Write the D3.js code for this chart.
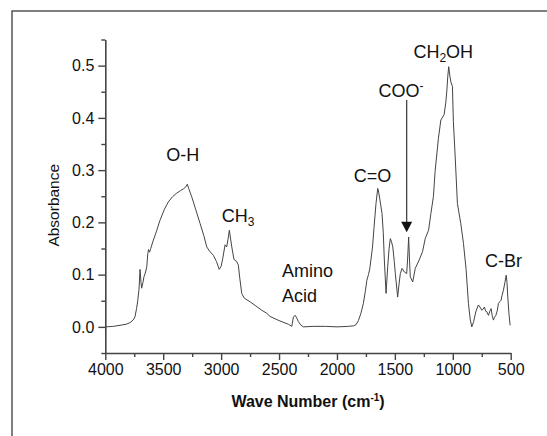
<!DOCTYPE html>
<html>
<head>
<meta charset="utf-8">
<script src="https://cdn.jsdelivr.net/npm/d3@7"></script>
<style>
  body { margin: 0; background: #fff; }
  svg text { font-family: "Liberation Sans", Arial, sans-serif; fill: #111; }
</style>
</head>
<body>
<div id="chart"></div>
<script>
// IR spectrum, wave number (cm-1) vs absorbance
const waveNumber = [
    4000, 3930, 3873, 3820, 3787, 3760, 3744, 3730, 3720, 3709, 3700, 3692, 3686, 3675, 3666, 3652,
    3642, 3633, 3627, 3618, 3608, 3585, 3555, 3528, 3490, 3456, 3420, 3383, 3350, 3326, 3305, 3292,
    3280, 3254, 3220, 3182, 3150, 3124, 3100, 3067, 3040, 3016, 3000, 2986, 2966, 2952, 2940, 2929,
    2918, 2908, 2889, 2865, 2851, 2840, 2822, 2800, 2750, 2700, 2650, 2606, 2578, 2500, 2420, 2390,
    2376, 2360, 2345, 2333, 2310, 2290, 2200, 2100, 2000, 1900, 1858, 1836, 1815, 1793, 1772, 1755,
    1742, 1728, 1716, 1693, 1680, 1663, 1648, 1640, 1629, 1611, 1600, 1591, 1576, 1562, 1550, 1539,
    1528, 1518, 1505, 1496, 1476, 1465, 1453, 1438, 1418, 1398, 1390, 1381, 1374, 1367, 1346, 1324,
    1290, 1261, 1238, 1209, 1189, 1167, 1153, 1124, 1103, 1075, 1060, 1052, 1043, 1035, 1025, 1017,
    1003, 995, 980, 960, 931, 908, 885, 865, 850, 836, 820, 800, 779, 765, 750, 738,
    727, 716, 706, 692, 680, 669, 660, 649, 640, 628, 615, 606, 595, 583, 575, 563,
    550, 539, 532, 525, 515, 505
];
const absorbance = [
    0.000, 0.001, 0.003, 0.005, 0.008, 0.013, 0.019, 0.035, 0.050, 0.072, 0.110, 0.085, 0.074, 0.085, 0.096, 0.105,
    0.115, 0.140, 0.148, 0.143, 0.150, 0.166, 0.185, 0.204, 0.225, 0.239, 0.249, 0.256, 0.261, 0.264, 0.268, 0.273,
    0.265, 0.249, 0.225, 0.198, 0.175, 0.153, 0.145, 0.137, 0.125, 0.110, 0.116, 0.131, 0.157, 0.153, 0.168, 0.185,
    0.168, 0.153, 0.129, 0.125, 0.118, 0.095, 0.064, 0.055, 0.048, 0.040, 0.032, 0.026, 0.020, 0.012, 0.005, 0.001,
    0.019, 0.022, 0.016, 0.010, 0.003, 0.000, 0.001, 0.001, 0.000, 0.001, 0.002, 0.004, 0.012, 0.026, 0.045, 0.068,
    0.089, 0.100, 0.112, 0.153, 0.190, 0.236, 0.265, 0.258, 0.243, 0.217, 0.180, 0.128, 0.064, 0.115, 0.150, 0.169,
    0.162, 0.153, 0.125, 0.102, 0.057, 0.080, 0.102, 0.112, 0.105, 0.102, 0.130, 0.172, 0.130, 0.096, 0.086, 0.112,
    0.128, 0.144, 0.169, 0.185, 0.217, 0.250, 0.297, 0.361, 0.396, 0.406, 0.430, 0.450, 0.480, 0.498, 0.480, 0.469,
    0.460, 0.393, 0.329, 0.236, 0.198, 0.160, 0.110, 0.045, 0.015, 0.000, 0.010, 0.030, 0.042, 0.038, 0.032, 0.034,
    0.038, 0.030, 0.029, 0.022, 0.030, 0.035, 0.022, 0.013, 0.018, 0.022, 0.032, 0.045, 0.048, 0.051, 0.060, 0.070,
    0.085, 0.099, 0.085, 0.057, 0.025, 0.003
];

const xTicks = [4000, 3500, 3000, 2500, 2000, 1500, 1000, 500];
const xMinor = [3750, 3250, 2750, 2250, 1750, 1250, 750];
const yTicks = [0.0, 0.1, 0.2, 0.3, 0.4, 0.5];
const yMinor = [-0.05, 0.05, 0.15, 0.25, 0.35, 0.45, 0.55];

// peak labels, anchored in data units
const peakNames = ["O-H", "CH3", "Amino", "Acid", "C=O", "COO-", "CH2OH", "C-Br"];
const peakWave = [3332, 2995, 2474, 2474, 1693, 1642, 1340, 721];
const peakAbs = [0.318, 0.201, 0.096, 0.048, 0.277, 0.440, 0.514, 0.115];
const arrowWave = 1398;
const arrowFrom = 0.434;
const arrowTo = 0.181;

const width = 547, height = 436;
const plot = { left: 105.3, right: 510.7, top: 39.5, bottom: 353 };

const svg = d3.select("#chart")
    .append("svg")
    .attr("width", width)
    .attr("height", height);

// outer frame (runs off the right and bottom of the picture)
svg.append("rect")
    .attr("x", 12)
    .attr("y", 11)
    .attr("width", 600)
    .attr("height", 500)
    .attr("fill", "none")
    .attr("stroke", "#555")
    .attr("stroke-width", 1.5);

const x = d3.scaleLinear().domain([4000, 500]).range([plot.left, plot.right]);
const y = d3.scaleLinear().domain([-0.05, 0.55]).range([plot.bottom, plot.top]);

function styleAxis(g) {
    g.selectAll("path.domain").attr("stroke", "#444").attr("stroke-width", 1.6);
    g.selectAll(".tick line").attr("stroke", "#444").attr("stroke-width", 1.4);
    g.selectAll(".tick text")
        .attr("fill", "#111")
        .style("font-family", '"Liberation Sans", Arial, sans-serif')
        .style("font-size", "16px");
}

// minor ticks first, majors carry the domain line
svg.append("g")
    .attr("transform", "translate(0," + plot.bottom + ")")
    .call(d3.axisBottom(x).tickValues(xMinor).tickSize(4).tickFormat(""))
    .call(g => g.select(".domain").remove())
    .call(styleAxis);

svg.append("g")
    .attr("transform", "translate(" + plot.left + ",0)")
    .call(d3.axisLeft(y).tickValues(yMinor).tickSize(4).tickFormat(""))
    .call(g => g.select(".domain").remove())
    .call(styleAxis);

svg.append("g")
    .attr("transform", "translate(0," + plot.bottom + ")")
    .call(d3.axisBottom(x).tickValues(xTicks).tickSize(7).tickSizeOuter(0).tickPadding(4).tickFormat(d3.format("d")))
    .call(styleAxis);

svg.append("g")
    .attr("transform", "translate(" + plot.left + ",0)")
    .call(d3.axisLeft(y).tickValues(yTicks).tickSize(7).tickSizeOuter(0).tickPadding(4).tickFormat(d3.format(".1f")))
    .call(styleAxis);

// axis titles
svg.append("text")
    .attr("transform", "translate(59," + ((plot.top + plot.bottom) / 2 + 9) + ") rotate(-90)")
    .attr("text-anchor", "middle")
    .style("font-size", "15.5px")
    .text("Absorbance");

const xTitle = svg.append("text")
    .attr("x", (plot.left + plot.right) / 2)
    .attr("y", 406.5)
    .attr("text-anchor", "middle")
    .style("font-size", "16px")
    .style("font-weight", "bold")
    .text("Wave Number (cm");
xTitle.append("tspan").attr("dy", -6).style("font-size", "10px").text("-1");
xTitle.append("tspan").attr("dy", 6).text(")");

// spectrum
const line = d3.line()
    .x((d, i) => x(waveNumber[i]))
    .y(d => y(d));

svg.append("path")
    .datum(absorbance)
    .attr("d", line)
    .attr("fill", "none")
    .attr("stroke", "#444")
    .attr("stroke-width", 1)
    .attr("stroke-linejoin", "round");

// peak labels
peakNames.forEach(function(name, i) {
    const t = svg.append("text")
        .attr("x", x(peakWave[i]))
        .attr("y", y(peakAbs[i]))
        .attr("text-anchor", (name == "O-H" || name == "C=O") ? "middle" : "start")
        .style("font-size", "18px");

    if (name == "CH3") {
        t.text("CH");
        t.append("tspan").attr("dy", 4).style("font-size", "12px").text("3");
    } else if (name == "CH2OH") {
        t.text("CH");
        t.append("tspan").attr("dy", 4).style("font-size", "12px").text("2");
        t.append("tspan").attr("dy", -4).text("OH");
    } else if (name == "COO-") {
        t.text("COO");
        t.append("tspan").attr("dy", -7).style("font-size", "12px").text("-");
    } else {
        t.text(name);
    }
});

// arrow to the COO- band
const ax = x(arrowWave);
svg.append("line")
    .attr("x1", ax).attr("x2", ax)
    .attr("y1", y(arrowFrom)).attr("y2", y(arrowTo) - 8)
    .attr("stroke", "#333")
    .attr("stroke-width", 1.2);

svg.append("path")
    .attr("d", d3.line()([[ax - 5.5, y(arrowTo) - 10.5], [ax + 5.5, y(arrowTo) - 10.5], [ax, y(arrowTo)]]) + "Z")
    .attr("fill", "#111");
</script>
</body>
</html>
